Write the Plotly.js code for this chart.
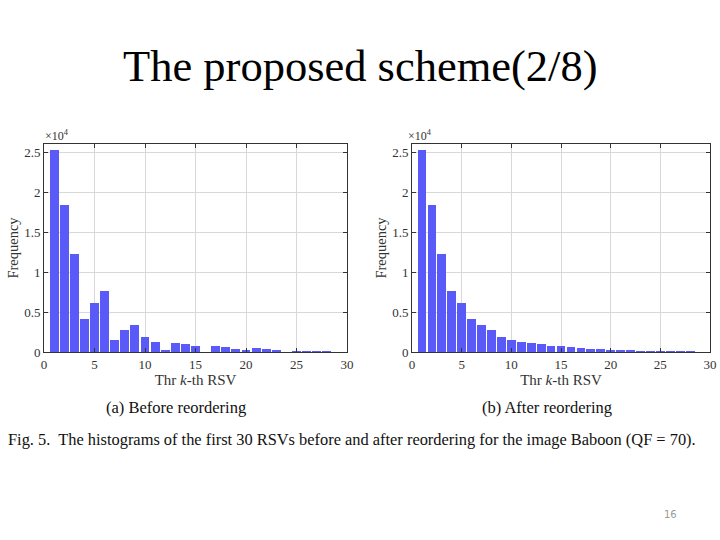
<!DOCTYPE html>
<html>
<head>
<meta charset="utf-8">
<script src="https://cdn.plot.ly/plotly-3.0.1.min.js"></script>
<style>html,body{margin:0;padding:0;background:#fff;}#chart{width:720px;height:540px;}</style>
</head>
<body>
<div id="chart"></div>
<script>
// RSV index k = 1..30
const rsvIndex = [1,2,3,4,5,6,7,8,9,10,11,12,13,14,15,16,17,18,19,20,21,22,23,24,25,26,27,28,29,30];
// (a) Before reordering — frequency counts
const freqBefore = [25300,18400,12200,4100,6100,7600,1500,2800,3400,1900,1300,200,1100,1000,800,50,700,600,400,250,500,400,250,50,170,100,150,150,60,60];
// (b) After reordering — frequency counts
const freqAfter = [25300,18400,12200,7600,6100,4100,3400,2800,1900,1500,1300,1100,1000,800,700,600,500,400,400,300,250,200,170,150,150,120,100,80,60,60];
const yTickVals = [0,5000,10000,15000,20000,25000];
const yTickText = ['0','0.5','1','1.5','2','2.5'];
const xTickVals = [0,5,10,15,20,25,30];

const barColor = 'rgb(90,90,248)';
const serif = 'Liberation Serif, Times New Roman, serif';

const data = [
  {type:'bar', x: rsvIndex, y: freqBefore, width: 0.88, marker:{color:barColor, line:{width:0}}, xaxis:'x', yaxis:'y', hoverinfo:'none'},
  {type:'bar', x: rsvIndex, y: freqAfter, width: 0.88, marker:{color:barColor, line:{width:0}}, xaxis:'x2', yaxis:'y2', hoverinfo:'none'}
];

function xa(domain, anchor){
  return {domain: domain, anchor: anchor, range:[0,30], tickvals: xTickVals, ticks:'inside', ticklen:4, tickcolor:'#333',
    showline:true, linecolor:'#333', linewidth:1, mirror:'allticks', showgrid:true, gridcolor:'#d8d8d8', gridwidth:1,
    zeroline:false, tickfont:{family:serif, size:13, color:'#333'}, fixedrange:true,
    title:{text:'Thr <i>k</i>-th RSV', font:{family:serif, size:15, color:'#333'}, standoff:0}};
}
function ya(domain, anchor){
  return {domain: domain, anchor: anchor, range:[0,26000], tickvals: yTickVals, ticktext: yTickText, ticks:'inside', ticklen:4, tickcolor:'#333',
    showline:true, linecolor:'#333', linewidth:1, mirror:'allticks', showgrid:true, gridcolor:'#d8d8d8', gridwidth:1,
    zeroline:false, tickfont:{family:serif, size:13, color:'#333'}, fixedrange:true,
    title:{text:'Frequency', font:{family:serif, size:14.5, color:'#333'}, standoff:2}};
}

const yDom = [(540-352)/540, (540-144)/540];
const layout = {
  width:720, height:540, margin:{l:0,r:0,t:0,b:0}, paper_bgcolor:'#fff', plot_bgcolor:'#fff',
  showlegend:false, bargap:0,
  xaxis: xa([44/720, 347/720], 'y'),
  yaxis: ya(yDom, 'x'),
  xaxis2: xa([412/720, 710/720], 'y2'),
  yaxis2: ya(yDom, 'x2'),
  annotations: [
    {text:'The proposed scheme(2/8)', xref:'paper', yref:'paper', x:360/720, y:1-66/540, xanchor:'center', yanchor:'middle', showarrow:false,
     font:{family:serif, size:44.5, color:'#000'}},
    {text:'×10<sup>4</sup>', xref:'paper', yref:'paper', x:43/720, y:1-136/540, xanchor:'left', yanchor:'middle', showarrow:false,
     font:{family:serif, size:12, color:'#333'}},
    {text:'×10<sup>4</sup>', xref:'paper', yref:'paper', x:406/720, y:1-136/540, xanchor:'left', yanchor:'middle', showarrow:false,
     font:{family:serif, size:12, color:'#333'}},
    {text:'(a) Before reordering', xref:'paper', yref:'paper', x:176/720, y:1-407/540, xanchor:'center', yanchor:'middle', showarrow:false,
     font:{family:serif, size:16.5, color:'#111'}},
    {text:'(b) After reordering', xref:'paper', yref:'paper', x:547/720, y:1-407/540, xanchor:'center', yanchor:'middle', showarrow:false,
     font:{family:serif, size:16.5, color:'#111'}},
    {text:'Fig. 5.  The histograms of the first 30 RSVs before and after reordering for the image Baboon (QF = 70).', xref:'paper', yref:'paper', x:6/720, y:1-439/540, xanchor:'left', yanchor:'middle', showarrow:false,
     font:{family:serif, size:16.4, color:'#111'}},
    {text:'16', xref:'paper', yref:'paper', x:670/720, y:1-514/540, xanchor:'center', yanchor:'middle', showarrow:false,
     font:{family:'DejaVu Sans, sans-serif', size:10, color:'#999'}}
  ]
};

Plotly.newPlot('chart', data, layout, {staticPlot:true, displayModeBar:false});
</script>
</body>
</html>
